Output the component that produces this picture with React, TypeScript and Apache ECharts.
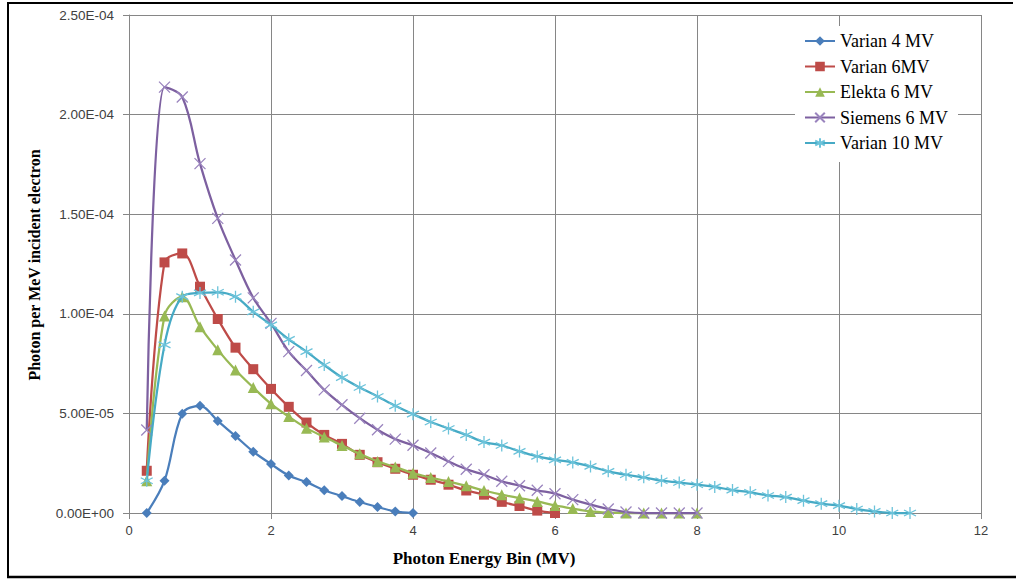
import React, { useEffect, useRef } from "react";
import * as echarts from "echarts";

// Photon energy bins (MV)
const energyBins = [
  0.25, 0.5, 0.75, 1.0, 1.25, 1.5, 1.75, 2.0, 2.25, 2.5, 2.75, 3.0,
  3.25, 3.5, 3.75, 4.0, 4.25, 4.5, 4.75, 5.0, 5.25, 5.5, 5.75, 6.0,
  6.25, 6.5, 6.75, 7.0, 7.25, 7.5, 7.75, 8.0, 8.25, 8.5, 8.75, 9.0,
  9.25, 9.5, 9.75, 10.0, 10.25, 10.5, 10.75, 11.0,
];

const varian4 = [
  0, 1.62e-5, 4.98e-5, 5.38e-5, 4.62e-5, 3.86e-5, 3.08e-5, 2.46e-5,
  1.88e-5, 1.55e-5, 1.14e-5, 0.85e-5, 0.55e-5, 0.3e-5, 0.08e-5, 0,
];

const varian6 = [
  2.12e-5, 12.58e-5, 13.03e-5, 11.36e-5, 9.74e-5, 8.3e-5, 7.22e-5, 6.23e-5,
  5.33e-5, 4.54e-5, 3.92e-5, 3.47e-5, 2.92e-5, 2.55e-5, 2.22e-5, 1.92e-5,
  1.67e-5, 1.42e-5, 1.13e-5, 0.92e-5, 0.56e-5, 0.35e-5, 0.12e-5, 0,
];

const elekta6 = [
  1.62e-5, 9.89e-5, 10.86e-5, 9.35e-5, 8.19e-5, 7.18e-5, 6.3e-5, 5.48e-5,
  4.84e-5, 4.26e-5, 3.81e-5, 3.39e-5, 2.97e-5, 2.59e-5, 2.31e-5, 2.0e-5,
  1.78e-5, 1.58e-5, 1.37e-5, 1.13e-5, 0.92e-5, 0.75e-5, 0.58e-5, 0.38e-5,
  0.22e-5, 0.08e-5, 0.02e-5, 0, 0, 0, 0, 0,
];

const siemens6 = [
  4.17e-5, 21.38e-5, 20.88e-5, 17.54e-5, 14.79e-5, 12.7e-5, 10.8e-5, 9.52e-5,
  8.1e-5, 7.15e-5, 6.18e-5, 5.43e-5, 4.76e-5, 4.18e-5, 3.71e-5, 3.4e-5,
  3.01e-5, 2.59e-5, 2.2e-5, 1.92e-5, 1.59e-5, 1.37e-5, 1.14e-5, 0.97e-5,
  0.67e-5, 0.42e-5, 0.2e-5, 0.05e-5, 0, 0, 0, 0,
];

const varian10 = [
  1.62e-5, 8.44e-5, 10.86e-5, 11.05e-5, 11.08e-5, 10.86e-5, 10.1e-5, 9.44e-5,
  8.72e-5, 8.1e-5, 7.43e-5, 6.8e-5, 6.3e-5, 5.85e-5, 5.38e-5, 4.96e-5,
  4.57e-5, 4.24e-5, 3.92e-5, 3.56e-5, 3.39e-5, 3.09e-5, 2.84e-5, 2.67e-5,
  2.54e-5, 2.34e-5, 2.09e-5, 1.92e-5, 1.79e-5, 1.62e-5, 1.53e-5, 1.42e-5,
  1.31e-5, 1.15e-5, 1.04e-5, 0.88e-5, 0.8e-5, 0.62e-5, 0.47e-5, 0.37e-5,
  0.2e-5, 0.08e-5, 0, 0,
];

const seriesNames = ["Varian 4 MV", "Varian 6MV", "Elekta 6 MV", "Siemens 6 MV", "Varian 10 MV"];
const seriesColors = ["#4A7EBB", "#BE4B48", "#98B954", "#7D60A0", "#46AAC5"];
const markerColors = ["#4A7EBB", "#BE4B48", "#98B954", "#9A84BE", "#6CC3DA"];

const xTitle = "Photon Energy Bin (MV)";
const yTitle = "Photon per MeV incident electron";

function sci(v: number): string {
  if (Math.abs(v) < 1e-12) return "0.00E+00";
  const s = v.toExponential(2);
  const [m, e] = s.split("e");
  const n = parseInt(e, 10);
  const a = Math.abs(n);
  return m + "E" + (n < 0 ? "-" : "+") + (a < 10 ? "0" + a : String(a));
}

const X_PATH = "path://M0,0L10,10M10,0L0,10";
const STAR_PATH = "path://M5,0L5,10M0.7,2.5L9.3,7.5M9.3,2.5L0.7,7.5";

export default function App() {
  const ref = useRef<HTMLDivElement>(null);

  useEffect(() => {
    if (!ref.current) return;
    const chart = echarts.init(ref.current, undefined, { renderer: "svg" });

    const allData = [varian4, varian6, elekta6, siemens6, varian10];
    const symbols = ["diamond", "rect", "triangle", X_PATH, STAR_PATH];
    const sizes = [10, 10, 11, 11, 12];

    const series = allData.map((ys, i) => {
      const stroke = i >= 3;
      return {
        name: seriesNames[i],
        type: "line",
        smooth: 0.35,
        data: ys.map((y, j) => [energyBins[j], y]),
        symbol: symbols[i],
        symbolSize: sizes[i],
        showAllSymbol: true,
        clip: false,
        lineStyle: { color: seriesColors[i], width: 2.25 },
        itemStyle: stroke
          ? { color: "transparent", borderColor: markerColors[i], borderWidth: 1.3 }
          : { color: markerColors[i], borderWidth: 0 },
        emphasis: { disabled: true },
        z: 2 + i,
      };
    });

    const axisGray = "#868686";

    chart.setOption({
      animation: false,
      backgroundColor: "#ffffff",
      grid: { left: 129, right: 35, top: 15, bottom: 66, containLabel: false },
      legend: {
        orient: "vertical",
        left: 795,
        top: 26,
        data: seriesNames,
        backgroundColor: "#ffffff",
        padding: [6, 10, 10, 9],
        itemWidth: 30,
        itemHeight: 12,
        itemGap: 7.5,
        textStyle: { fontFamily: "Liberation Serif", fontSize: 18, color: "#000000" },
      },
      xAxis: {
        type: "value",
        min: 0,
        max: 12,
        interval: 2,
        axisLine: { show: true, lineStyle: { color: axisGray, width: 1 } },
        axisTick: { show: true, length: 6, lineStyle: { color: axisGray } },
        axisLabel: { fontFamily: "Liberation Sans", fontSize: 13, color: "#404040", margin: 11 },
        splitLine: { show: true, lineStyle: { color: axisGray, width: 1 } },
      },
      yAxis: {
        type: "value",
        min: 0,
        max: 2.5e-4,
        interval: 5e-5,
        axisLine: { show: true, lineStyle: { color: axisGray, width: 1 } },
        axisTick: { show: true, length: 6, lineStyle: { color: axisGray } },
        axisLabel: { fontFamily: "Liberation Sans", fontSize: 13.5, color: "#404040", margin: 15, formatter: (v: number) => sci(v) },
        splitLine: { show: true, lineStyle: { color: axisGray, width: 1 } },
      },
      graphic: [
        {
          type: "text",
          x: 484,
          y: 558,
          style: { text: xTitle, font: 'bold 17px "Liberation Serif"', fill: "#000", textAlign: "center", textVerticalAlign: "middle" },
        },
        {
          type: "text",
          x: 34,
          y: 265,
          rotation: Math.PI / 2,
          style: { text: yTitle, font: 'bold 16px "Liberation Serif"', fill: "#000", textAlign: "center", textVerticalAlign: "middle" },
        },
        { type: "line", shape: { x1: 8, y1: 3, x2: 1013, y2: 3 }, style: { stroke: "#000", lineWidth: 2 }, z: 100 },
        { type: "line", shape: { x1: 8, y1: 2, x2: 8, y2: 578 }, style: { stroke: "#000", lineWidth: 2 }, z: 100 },
        { type: "line", shape: { x1: 7, y1: 577, x2: 1016, y2: 577 }, style: { stroke: "#000", lineWidth: 2.5 }, z: 100 },
      ],
      series,
    });

    return () => chart.dispose();
  }, []);

  return (
    <div
      ref={ref}
      style={{ position: "absolute", left: 0, top: 0, width: 1016, height: 579, background: "#fff" }}
    />
  );
}
